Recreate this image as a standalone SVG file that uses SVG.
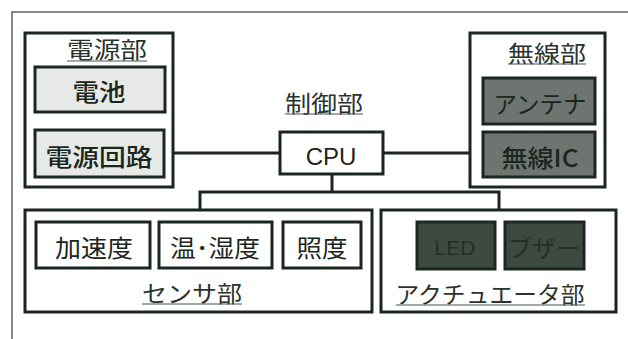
<svg xmlns="http://www.w3.org/2000/svg" width="628" height="339" viewBox="0 0 628 339">
<style>
.grp{fill:#fff;stroke:#1c2620;stroke-width:3}
.lt{fill:#e6e9e6;stroke:#1c2620;stroke-width:3}
.wh{fill:#fff;stroke:#1c2620;stroke-width:3}
.md{fill:#6e7470;stroke:#1c2620;stroke-width:3}
.dk{fill:#3d4a40;stroke:#1c2620;stroke-width:3}
.t{font-family:"Noto Sans CJK JP","Noto Sans",sans-serif;font-size:24px;fill:#1c2620;text-anchor:middle;dominant-baseline:central}
.b{font-weight:500}
.ttl{font-family:"Noto Sans CJK JP","Noto Sans",sans-serif;font-size:23px;fill:#2a332d;text-anchor:middle;dominant-baseline:central}
.ul{stroke:#4a5550;stroke-width:1.2}
.c{stroke:#1c2620;stroke-width:3;fill:none}
</style>
<rect width="628" height="339" fill="#fff"/>
<path d="M12,339 V12 H628" fill="none" stroke="#5a625d" stroke-width="1.5"/>

<g id="connectors">
<line class="c" x1="99" y1="112" x2="99" y2="130"/>
<line class="c" x1="165" y1="153" x2="280" y2="153"/>
<line class="c" x1="383" y1="153" x2="483" y2="153"/>
<line class="c" x1="540" y1="124" x2="540" y2="132"/>
<path class="c" d="M332,174 V192 M200,210 V192 H499 V210"/>
</g>

<g id="power">
<rect class="grp" x="25" y="33" width="148" height="154"/>
<text class="ttl" x="107" y="48" textLength="80" lengthAdjust="spacingAndGlyphs">電源部</text>
<line class="ul" x1="67" y1="61" x2="147" y2="61"/>
</g>
<g id="battery">
<rect class="lt" x="35" y="67" width="130" height="45"/>
<text class="t b" x="99" y="90" textLength="53" lengthAdjust="spacingAndGlyphs">電池</text>
</g>
<g id="power-circuit">
<rect class="lt" x="35" y="130" width="129" height="47"/>
<text class="t b" x="99" y="155" textLength="107" lengthAdjust="spacingAndGlyphs">電源回路</text>
</g>

<g id="control">
<text class="ttl" x="324" y="102" textLength="78" lengthAdjust="spacingAndGlyphs">制御部</text>
<line class="ul" x1="285" y1="114" x2="363" y2="114"/>
</g>
<g id="cpu">
<rect class="wh" x="280" y="132" width="103" height="42"/>
<text x="331" y="156" font-family="Liberation Sans, Arial, sans-serif" font-size="24" fill="#1c2620" text-anchor="middle" dominant-baseline="central">CPU</text>
</g>

<g id="wireless">
<rect class="grp" x="470" y="33" width="135" height="154"/>
<text class="ttl" x="547" y="52" textLength="78" lengthAdjust="spacingAndGlyphs">無線部</text>
<line class="ul" x1="508" y1="64" x2="586" y2="64"/>
</g>
<g id="antenna">
<rect class="md" x="483" y="78" width="112" height="46"/>
<text class="t" x="540" y="102" textLength="93" lengthAdjust="spacingAndGlyphs">アンテナ</text>
</g>
<g id="wireless-ic">
<rect class="md" x="483" y="132" width="112" height="45"/>
<text class="t b" x="540" y="156" textLength="77" lengthAdjust="spacingAndGlyphs">無線IC</text>
</g>

<g id="sensor">
<rect class="grp" x="25" y="210" width="347" height="102"/>
<text class="ttl" x="192" y="292" textLength="100" lengthAdjust="spacingAndGlyphs">センサ部</text>
<line class="ul" x1="142" y1="304" x2="242" y2="304"/>
</g>
<g id="accel">
<rect class="wh" x="36" y="222" width="114" height="46"/>
<text class="t" x="94" y="246" textLength="78" lengthAdjust="spacingAndGlyphs">加速度</text>
</g>
<g id="temp-humidity">
<rect class="wh" x="159" y="222" width="113" height="46"/>
<text class="t" x="215" y="246" textLength="90" lengthAdjust="spacingAndGlyphs">温･湿度</text>
</g>
<g id="illuminance">
<rect class="wh" x="283" y="222" width="78" height="46"/>
<text class="t" x="322" y="246" textLength="51" lengthAdjust="spacingAndGlyphs">照度</text>
</g>

<g id="actuator">
<rect class="grp" x="381" y="210" width="235" height="102"/>
<text class="ttl" x="490" y="293" textLength="189" lengthAdjust="spacingAndGlyphs">アクチュエータ部</text>
<line class="ul" x1="396" y1="305" x2="585" y2="305"/>
</g>
<g id="led">
<rect class="dk" x="417" y="222" width="78" height="47"/>
<text x="455" y="247" font-family="Liberation Sans, Arial, sans-serif" font-size="21" fill="#262e28" text-anchor="middle" dominant-baseline="central">LED</text>
</g>
<g id="buzzer">
<rect class="dk" x="505" y="222" width="79" height="47"/>
<text class="t" x="544" y="246" style="fill:#262e28" textLength="72" lengthAdjust="spacingAndGlyphs">ブザー</text>
</g>
</svg>
